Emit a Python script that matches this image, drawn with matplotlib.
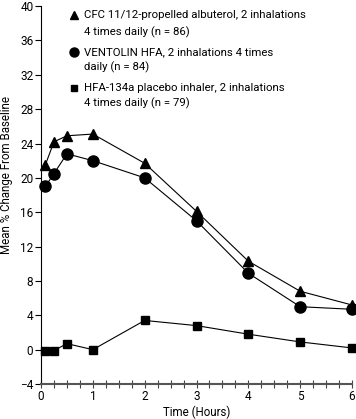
import matplotlib
matplotlib.use('Agg')
import matplotlib.pyplot as plt
from matplotlib import font_manager

# Time points (hours) and mean % change values
hours = [0.083, 0.25, 0.5, 1, 2, 3, 4, 5, 6]
cfc = [21.5, 24.2, 24.9, 25.1, 21.7, 16.1, 10.3, 6.8, 5.2]
ventolin = [19.0, 20.5, 22.8, 22.0, 20.0, 15.0, 8.9, 5.0, 4.7]
placebo = [-0.2, -0.1, 0.7, 0.0, 3.4, 2.8, 1.8, 0.9, 0.2]

legend_lines = [
    ("CFC 11/12-propelled albuterol, 2 inhalations", "4 times daily (n = 86)"),
    ("VENTOLIN HFA, 2 inhalations 4 times", "daily (n = 84)"),
    ("HFA-134a placebo inhaler, 2 inhalations", "4 times daily (n = 79)"),
]
markers = ["^", "o", "s"]
marker_sizes = [7, 8, 5.5]
legend_marker_sizes = [6, 6.5, 4.5]

yticks = list(range(-4, 41, 4))
xticks = list(range(0, 7))

names = {f.name for f in font_manager.fontManager.ttflist}
family = ["Liberation Sans Narrow"] if "Liberation Sans Narrow" in names else ["Roboto"]
plt.rcParams['font.family'] = family + ["DejaVu Sans"]

fig = plt.figure(figsize=(3.56, 4.19), dpi=100)
ax = fig.add_axes([0.1152, 0.0835, 0.8736, 0.902])

for vals, m, ms in zip([cfc, ventolin, placebo], markers, marker_sizes):
    ax.plot(hours, vals, color='black', lw=0.8, marker=m, ms=ms, clip_on=False)

ax.set_xlim(0, 6)
ax.set_ylim(-4, 40)
ax.set_yticks(yticks)
ax.set_xticks(xticks)
ax.set_xticks([i / 4 for i in range(25)], minor=True)
ax.spines['top'].set_visible(False)
ax.spines['right'].set_visible(False)
ax.spines['bottom'].set_color('#555555')
ax.spines['bottom'].set_linewidth(1.5)
ax.spines['left'].set_linewidth(0.8)
ax.tick_params(axis='y', direction='out', length=4, width=0.8, pad=1.5, labelsize=8.5)
ax.tick_params(axis='x', which='both', direction='inout', length=6, width=0.8,
               color='#444444', pad=1, labelsize=8.5)

ax.set_ylabel("Mean % Change From Baseline", fontsize=8.3)
ax.yaxis.set_label_coords(-0.089, 0.553)
ax.set_xlabel("Time (Hours)", fontsize=8.3)
ax.xaxis.set_label_coords(0.502, -0.058)

# legend drawn by hand so the marker sits on the first line of each entry
rows = [(0.976, 0.931), (0.878, 0.838), (0.783, 0.743)]
for (l1, l2), m, ms, (y1, y2) in zip(legend_lines, markers, legend_marker_sizes, rows):
    ax.plot([0.107], [y1], marker=m, ms=ms, color='black', transform=ax.transAxes, clip_on=False)
    ax.text(0.137, y1, l1, transform=ax.transAxes, va='center', fontsize=8.2)
    ax.text(0.137, y2, l2, transform=ax.transAxes, va='center', fontsize=8.2)

fig.savefig("out.png", dpi=100)
